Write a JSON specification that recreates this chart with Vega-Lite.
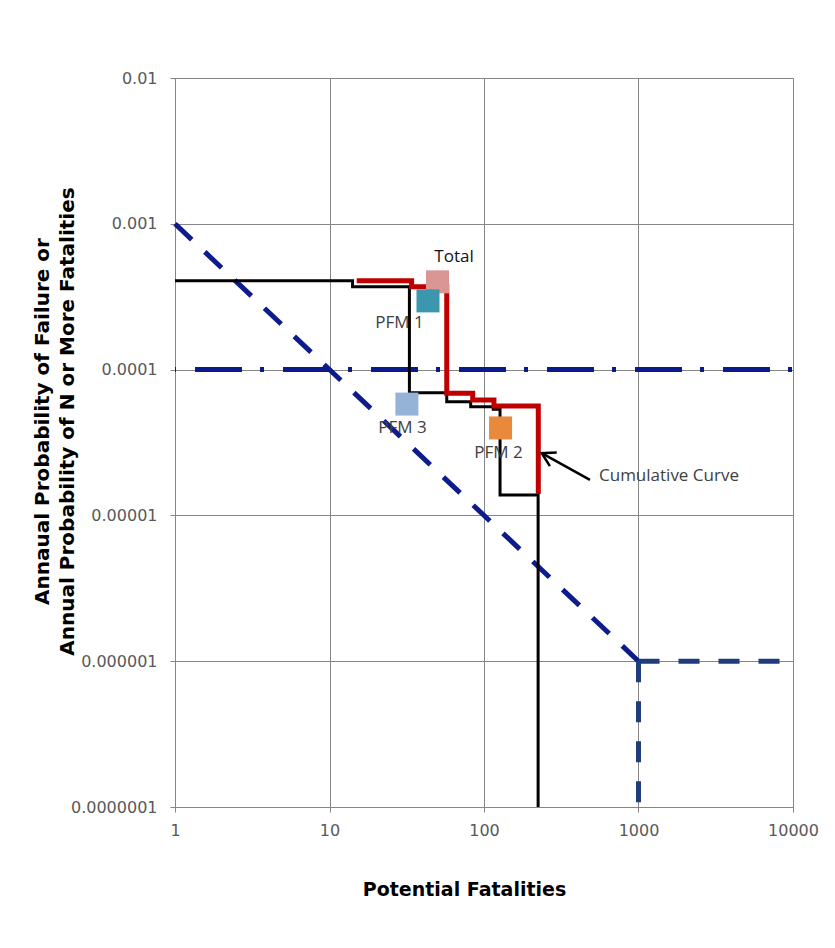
{
  "$schema": "https://vega.github.io/schema/vega-lite/v6.json",
  "width": 618,
  "height": 729,
  "autosize": {"type": "none"},
  "padding": {"left": 175, "top": 78, "right": 42, "bottom": 141},
  "background": "white",
  "config": {
    "view": {"stroke": "#868686", "strokeWidth": 1},
    "axis": {
      "grid": true,
      "gridColor": "#868686",
      "gridWidth": 1,
      "gridOpacity": 1,
      "domainColor": "#868686",
      "tickColor": "#868686",
      "tickSize": 5,
      "labelFont": "DejaVu Sans",
      "labelFontSize": 16,
      "labelColor": "#595959",
      "labelFlush": false,
      "labelOverlap": false,
      "titleFont": "DejaVu Sans",
      "titleFontWeight": "bold",
      "titleColor": "#000000"
    }
  },
  "datasets": {
    "dashdot": [{"x": 1, "y": 0.0001}, {"x": 10000, "y": 0.0001}],
    "diag": [{"x": 1, "y": 0.001}, {"x": 1000, "y": 0.000001}],
    "limit": [
      {"seg": "h", "i": 0, "x": 1000, "y": 0.000001},
      {"seg": "h", "i": 1, "x": 10000, "y": 0.000001},
      {"seg": "v", "i": 0, "x": 1000, "y": 0.000001},
      {"seg": "v", "i": 1, "x": 1000, "y": 0.0000001}
    ],
    "black": [
      {"i": 0, "x": 1, "y": 0.000407},
      {"i": 1, "x": 14.1, "y": 0.000407},
      {"i": 2, "x": 14.1, "y": 0.00037},
      {"i": 3, "x": 32.9, "y": 0.00037},
      {"i": 4, "x": 32.9, "y": 0.0000695},
      {"i": 5, "x": 57.4, "y": 0.0000695},
      {"i": 6, "x": 57.4, "y": 0.0000603},
      {"i": 7, "x": 82, "y": 0.0000603},
      {"i": 8, "x": 82, "y": 0.0000557},
      {"i": 9, "x": 114.8, "y": 0.0000557},
      {"i": 10, "x": 114.8, "y": 0.0000534},
      {"i": 11, "x": 127, "y": 0.0000534},
      {"i": 12, "x": 127, "y": 0.0000138},
      {"i": 13, "x": 224, "y": 0.0000138},
      {"i": 14, "x": 224, "y": 0.0000001}
    ],
    "red": [
      {"i": 0, "x": 15, "y": 0.000407},
      {"i": 1, "x": 34, "y": 0.000407},
      {"i": 2, "x": 34, "y": 0.00037},
      {"i": 3, "x": 57.4, "y": 0.00037},
      {"i": 4, "x": 57.4, "y": 0.0000688},
      {"i": 5, "x": 84.5, "y": 0.0000688},
      {"i": 6, "x": 84.5, "y": 0.0000619},
      {"i": 7, "x": 116, "y": 0.0000619},
      {"i": 8, "x": 116, "y": 0.0000562},
      {"i": 9, "x": 224.6, "y": 0.0000562},
      {"i": 10, "x": 224.6, "y": 0.000014}
    ],
    "squares": [
      {"name": "Total", "x": 50, "y": 0.0004},
      {"name": "PFM 1", "x": 43.4, "y": 0.000296},
      {"name": "PFM 3", "x": 31.7, "y": 0.000058},
      {"name": "PFM 2", "x": 128, "y": 0.0000398}
    ],
    "labels": [
      {"label": "PFM 1", "x": 28.4, "y": 0.000209},
      {"label": "PFM 3", "x": 29.7, "y": 0.0000398},
      {"label": "PFM 2", "x": 124, "y": 0.0000268},
      {"label": "Cumulative Curve", "x": 1575, "y": 0.0000186}
    ],
    "total": [{"label": "Total", "x": 64, "y": 0.000592}],
    "arrow": [
      {"seg": "shaft", "i": 0, "x": 236.3, "y": 0.0000267},
      {"seg": "shaft", "i": 1, "x": 485, "y": 0.0000175},
      {"seg": "head", "i": 0, "x": 295.6, "y": 0.000027},
      {"seg": "head", "i": 1, "x": 236.3, "y": 0.0000267},
      {"seg": "head", "i": 2, "x": 267, "y": 0.0000218}
    ]
  },
  "encoding": {
    "x": {
      "field": "x",
      "type": "quantitative",
      "scale": {"type": "log", "domain": [1, 10000], "nice": false},
      "axis": {
        "values": [1, 10, 100, 1000, 10000],
        "format": "d",
        "labelPadding": 10,
        "title": "Potential Fatalities",
        "titleFontSize": 19,
        "titleX": 289,
        "titleY": 82,
        "titleAlign": "center",
        "titleBaseline": "middle"
      }
    },
    "y": {
      "field": "y",
      "type": "quantitative",
      "scale": {"type": "log", "domain": [0.0000001, 0.01], "nice": false},
      "axis": {
        "values": [0.0000001, 0.000001, 0.00001, 0.0001, 0.001, 0.01],
        "format": ".7~f",
        "labelPadding": 13,
        "title": ["Annaual Probability of Failure or", "Annual Probability of N or More Fatalities"],
        "titleFontSize": 20,
        "titleLineHeight": 25,
        "titleX": -133,
        "titleY": 343,
        "titleAngle": -90,
        "titleAlign": "center",
        "titleBaseline": "middle"
      }
    }
  },
  "layer": [
    {
      "data": {"name": "dashdot"},
      "mark": {"type": "line", "color": "#0A1A8A", "strokeWidth": 5, "strokeDash": [47, 18, 4, 19], "strokeDashOffset": 68},
      "encoding": {}
    },
    {
      "data": {"name": "diag"},
      "mark": {"type": "line", "color": "#0D1B8C", "strokeWidth": 5, "strokeDash": [23, 18]},
      "encoding": {}
    },
    {
      "data": {"name": "limit"},
      "mark": {"type": "line", "color": "#1F3D7A", "strokeWidth": 5, "strokeDash": [21, 19]},
      "encoding": {"detail": {"field": "seg"}, "order": {"field": "i"}}
    },
    {
      "data": {"name": "black"},
      "mark": {"type": "line", "color": "#000000", "strokeWidth": 3},
      "encoding": {"order": {"field": "i"}}
    },
    {
      "data": {"name": "red"},
      "mark": {"type": "line", "color": "#C00000", "strokeWidth": 5},
      "encoding": {"order": {"field": "i"}}
    },
    {
      "data": {"name": "squares"},
      "mark": {"type": "point", "shape": "square", "filled": true, "opacity": 1, "size": 529},
      "encoding": {
        "color": {
          "field": "name",
          "type": "nominal",
          "scale": {"domain": ["Total", "PFM 1", "PFM 3", "PFM 2"], "range": ["#D99694", "#3A97AE", "#95B3D7", "#E8893B"]},
          "legend": null
        }
      }
    },
    {
      "data": {"name": "labels"},
      "mark": {"type": "text", "font": "Open Sans", "fontSize": 17, "color": "#404040", "align": "center", "baseline": "middle"},
      "encoding": {"text": {"field": "label"}}
    },
    {
      "data": {"name": "total"},
      "mark": {"type": "text", "font": "Open Sans", "fontSize": 17, "color": "#111111", "align": "center", "baseline": "middle"},
      "encoding": {"text": {"field": "label"}}
    },
    {
      "data": {"name": "arrow"},
      "mark": {"type": "line", "color": "#000000", "strokeWidth": 2.5},
      "encoding": {"detail": {"field": "seg"}, "order": {"field": "i"}}
    }
  ]
}
